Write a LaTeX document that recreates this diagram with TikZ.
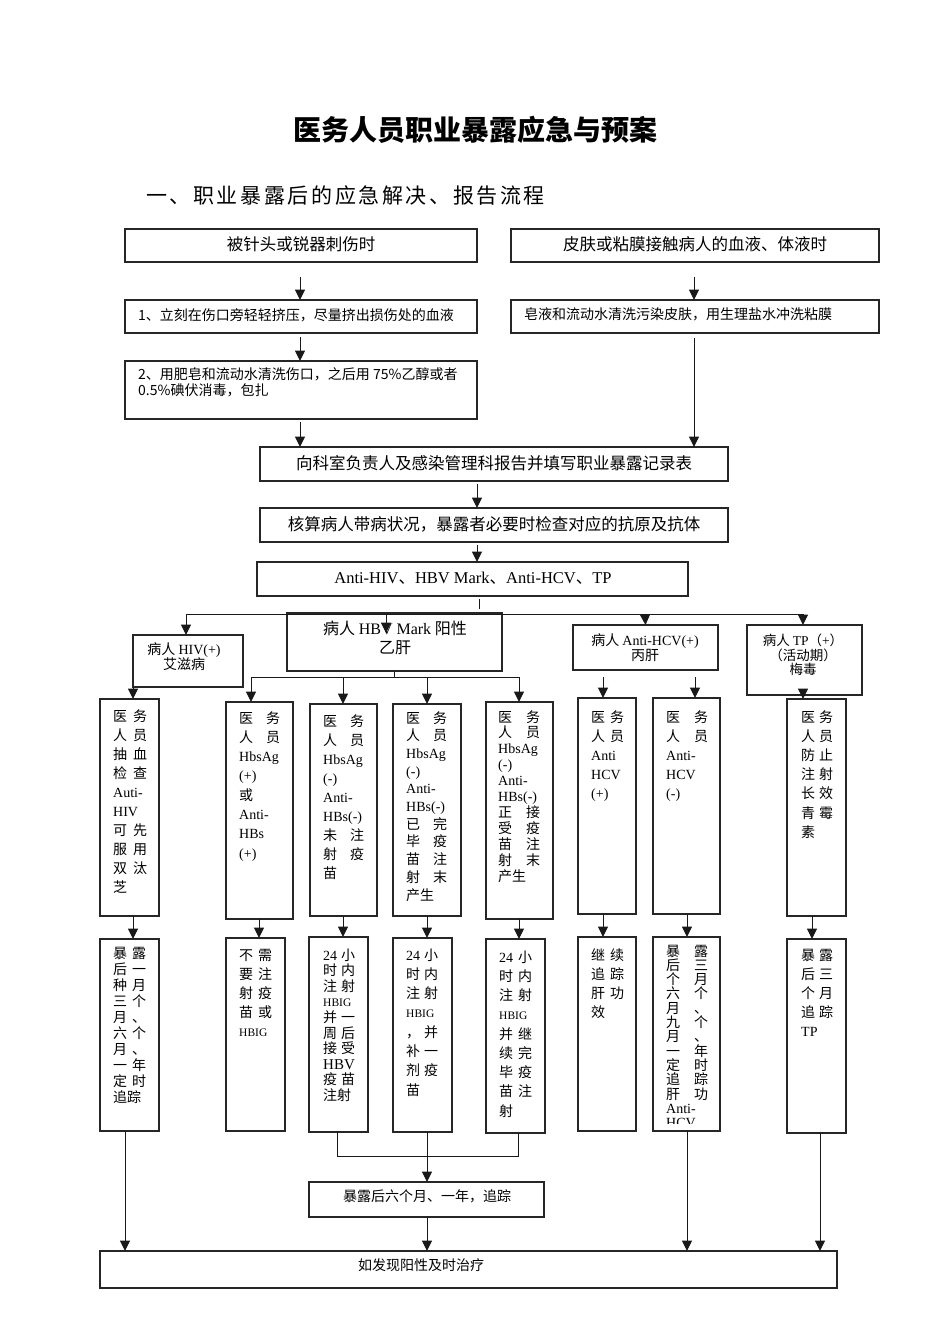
\documentclass[tikz,border=0pt]{standalone}
\usepackage{fontspec}
\setmainfont{Liberation Serif}
\newfontfamily\cjk{Noto Sans CJK SC}
\newfontfamily\cjksp[LetterSpace=12.4]{Noto Sans CJK SC}
\usetikzlibrary{arrows.meta}
\newlength\cw
\newcommand\TW[2]{\hbox to\cw{#1\hfill#2}}
\newcommand\ON[1]{\hbox to\cw{#1\hfill}}
\newcommand\lat[1]{{\rmfamily #1}}
\newcommand\sm[1]{\hbox{\rmfamily\fontsize{11.5}{11.5}\selectfont #1}}
\newcommand\colt[6]{\node[ct] (#1) at (#2,#3) {\cw=#4pt\vtop{\baselineskip=#5pt\lineskiplimit=-\maxdimen #6}};}
\tikzset{
 box/.style={draw=black!85, line width=1.3pt, anchor=north west, inner sep=0pt, outer sep=0pt},
 arr/.style={draw=black!90, line width=1pt, -{Triangle[length=10.5pt,width=10pt]}},
 ln/.style={draw=black!90, line width=1pt},
 t14/.style={font=\cjk\fontsize{14}{15}\selectfont, inner sep=0pt, align=center},
 t16/.style={font=\cjk\fontsize{16.5}{18}\selectfont, inner sep=0pt, align=center},
 ct/.style={font=\cjk\fontsize{14}{14}\selectfont, inner sep=0pt, anchor=base west},
}
\begin{document}
\begin{tikzpicture}[x=1pt,y=-1pt]
\useasboundingbox (0,0) rectangle (950,1344);
\fill[white] (0,0) rectangle (950,1344);

% guides
\foreach \n/\v in {300/300,694/694,477/477,479/479,133/133,603/603,695/695,259/259,343/343,427/427,519/519,687/687,812/812,125/125,820/820,803/803,386/386}{\coordinate (g\n) at (\v,0);}

% title
\node[font=\cjk\bfseries\fontsize{28}{30}\selectfont, inner sep=0pt] (title) at (475,130) {医务人员职业暴露应急与预案};
\node[font=\cjksp\fontsize{21}{24}\selectfont, anchor=west, inner sep=0pt] (sub) at (146,196) {一、职业暴露后的应急解决、报告流程};

% top boxes
\node[box, minimum width=352pt, minimum height=33pt] (b1) at (125,229) {};
\node[box, minimum width=368pt, minimum height=33pt] (b2) at (511,229) {};
\node[box, minimum width=352pt, minimum height=33pt] (b3) at (125,300) {};
\node[box, minimum width=368pt, minimum height=33pt] (b4) at (511,300) {};
\node[box, minimum width=352pt, minimum height=58pt] (b5) at (125,361) {};
\node[box, minimum width=468pt, minimum height=34pt] (b6) at (260,447) {};
\node[box, minimum width=468pt, minimum height=34pt] (b7) at (260,508) {};
\node[box, minimum width=431pt, minimum height=34pt] (b8) at (257,562) {};

\node[t16] (b1t) at (301,244) {被针头或锐器刺伤时};
\node[t16] (b2t) at (695,244) {皮肤或粘膜接触病人的血液、体液时};
\node[t14, anchor=west] (b3t) at (138,315) {1、立刻在伤口旁轻轻挤压，尽量挤出损伤处的血液};
\node[t14, anchor=west] (b4t) at (524,314) {皂液和流动水清洗污染皮肤，用生理盐水冲洗粘膜};
\node[t14, anchor=north west, align=left, font=\cjk\fontsize{14}{16}\selectfont] (b5t) at (138,367) {2、用肥皂和流动水清洗伤口，之后用 75\%乙醇或者\\0.5\%碘伏消毒，包扎};
\node[t16] (b6t) at (494,463) {向科室负责人及感染管理科报告并填写职业暴露记录表};
\node[t16] (b7t) at (494,524) {核算病人带病状况，暴露者必要时检查对应的抗原及抗体};
\node[t16] (b8t) at (473,578) {\lat{Anti-HIV}、\lat{HBV Mark}、\lat{Anti-HCV}、\lat{TP}};

% top connectors
\draw[arr] ([yshift=-15pt]b1.south -| g300) -- (b3.north -| g300);
\draw[arr] ([yshift=-15pt]b2.south -| g694) -- (b4.north -| g694);
\draw[arr] ([yshift=-4pt]b3.south -| g300) -- (b5.north -| g300);
\draw[arr] ([yshift=-3pt]b5.south -| g300) -- (b6.north -| g300);
\draw[arr] ([yshift=-5pt]b4.south -| g694) -- (b6.north -| g694);
\draw[arr] ([yshift=-3pt]b6.south -| g477) -- (b7.north -| g477);
\draw[arr] ([yshift=-3pt]b7.south -| g477) -- (b8.north -| g477);
\draw[ln] ([yshift=-3pt]b8.south -| g479) -- ++(0,10);

% disease boxes
\node[box, minimum width=110pt, minimum height=52pt] (hiv) at (133,635) {};
\node[box, minimum width=215pt, minimum height=58pt] (hbv) at (287,613) {};
\node[box, minimum width=145pt, minimum height=45pt] (hcv) at (573,625) {};
\node[box, minimum width=115pt, minimum height=70pt] (tp) at (747,625) {};

\node[t14] (hivt) at (184,657) {病人 \lat{HIV(+)}\\艾滋病};
\node[t16, font=\cjk\fontsize{16}{19}\selectfont] (hbvt) at (395,638) {病人 \lat{HBV Mark} 阳性\\乙肝};
\node[t14] (hcvt) at (645,648) {病人 \lat{Anti-HCV(+)}\\丙肝};
\node[t14, font=\cjk\fontsize{13.5}{14.5}\selectfont] (tpt) at (803,655) {病人 \lat{TP}（\lat{+}）\\（活动期）\\梅毒};

% bus
\coordinate (busL) at (186,614);
\coordinate (busR) at (803,614);
\draw[ln] (busL) -- (busR);
\draw[arr] (busL) -- (busL |- hiv.north);
\draw[arr] (busL -| g386) -- ++(0,19);
\draw[arr] (busL -| hcvt) -- (hcv.north);
\draw[arr] (busR) -- (busR |- tp.north);

% column boxes row 1
\node[box, minimum width=59pt, minimum height=217pt] (c1) at (100,699) {};
\node[box, minimum width=67pt, minimum height=217pt] (c2) at (226,702) {};
\node[box, minimum width=67pt, minimum height=212pt] (c3) at (310,704) {};
\node[box, minimum width=68pt, minimum height=212pt] (c4) at (393,704) {};
\node[box, minimum width=67pt, minimum height=217pt] (c5) at (486,702) {};
\node[box, minimum width=58pt, minimum height=216pt] (c6) at (578,698) {};
\node[box, minimum width=67pt, minimum height=216pt] (c7) at (653,698) {};
\node[box, minimum width=59pt, minimum height=217pt] (c8) at (787,699) {};

% HBV sub bus
\coordinate (hbL) at (251,677);
\coordinate (hbR) at (519,677);
\draw[ln] (hbL) -- (hbR);
\draw[ln] (hbv.south) -- (hbv.south |- hbL);
\draw[arr] (hbL) -- (hbL |- c2.north);
\draw[arr] (hbL -| g343) -- (c3.north -| g343);
\draw[arr] (hbL -| g427) -- (c4.north -| g427);
\draw[arr] (hbR) -- (hbR |- c5.north);
\draw[arr] (hiv.south west) -- (hiv.south west |- c1.north);
\draw[arr] (hbL -| g603) -- (c6.north -| g603);
\draw[arr] (hbL -| g695) -- (c7.north -| g695);
\draw[arr] ([yshift=5pt]tp.south -| g803) -- (c8.north -| g803);

\colt{c1t}{113}{721}{34}{19.1}{\TW{医}{务}\TW{人}{员}\TW{抽}{血}\TW{检}{查}\ON{\lat{Auti-}}\ON{\lat{HIV}}\TW{可}{先}\TW{服}{用}\TW{双}{汰}\ON{芝}}
\colt{c2t}{239}{723}{41}{19.3}{\TW{医}{务}\TW{人}{员}\ON{\lat{HbsAg}}\ON{\lat{(+)}}\ON{或}\ON{\lat{Anti-}}\ON{\lat{HBs}}\ON{\lat{(+)}}}
\colt{c3t}{323}{726}{41}{19.1}{\TW{医}{务}\TW{人}{员}\ON{\lat{HbsAg}}\ON{\lat{(-)}}\ON{\lat{Anti-}}\ON{\lat{HBs(-)}}\TW{未}{注}\TW{射}{疫}\ON{苗}}
\colt{c4t}{406}{723}{41}{17.7}{\TW{医}{务}\TW{人}{员}\ON{\lat{HbsAg}}\ON{\lat{(-)}}\ON{\lat{Anti-}}\ON{\lat{HBs(-)}}\TW{已}{完}\TW{毕}{疫}\TW{苗}{注}\TW{射}{末}\ON{产生}}
\colt{c5t}{498}{722}{42}{15.9}{\TW{医}{务}\TW{人}{员}\ON{\lat{HbsAg}}\ON{\lat{(-)}}\ON{\lat{Anti-}}\ON{\lat{HBs(-)}}\TW{正}{接}\TW{受}{疫}\TW{苗}{注}\TW{射}{末}\ON{产生}}
\colt{c6t}{591}{722}{33}{19}{\TW{医}{务}\TW{人}{员}\ON{\lat{Anti}}\ON{\lat{HCV}}\ON{\lat{(+)}}}
\colt{c7t}{666}{722}{42}{19}{\TW{医}{务}\TW{人}{员}\ON{\lat{Anti-}}\ON{\lat{HCV}}\ON{\lat{(-)}}}
\colt{c8t}{801}{722}{32}{19.2}{\TW{医}{务}\TW{人}{员}\TW{防}{止}\TW{注}{射}\TW{长}{效}\TW{青}{霉}\ON{素}}

% column boxes row 2
\node[box, minimum width=59pt, minimum height=192pt] (d1) at (100,939) {};
\node[box, minimum width=59pt, minimum height=193pt] (d2) at (226,938) {};
\node[box, minimum width=59pt, minimum height=195pt] (d3) at (309,937) {};
\node[box, minimum width=59pt, minimum height=194pt] (d4) at (393,938) {};
\node[box, minimum width=59pt, minimum height=194pt] (d5) at (486,939) {};
\node[box, minimum width=58pt, minimum height=194pt] (d6) at (578,937) {};
\node[box, minimum width=67pt, minimum height=194pt] (d7) at (653,937) {};
\node[box, minimum width=59pt, minimum height=194pt] (d8) at (787,939) {};

\draw[arr] (c1.south -| g133) -- (d1.north -| g133);
\draw[arr] (c2.south -| g259) -- (d2.north -| g259);
\draw[arr] (c3.south -| g343) -- (d3.north -| g343);
\draw[arr] (c4.south -| g427) -- (d4.north -| g427);
\draw[arr] (c5.south -| g519) -- (d5.north -| g519);
\draw[arr] (c6.south -| g603) -- (d6.north -| g603);
\draw[arr] (c7.south -| g687) -- (d7.north -| g687);
\draw[arr] (c8.south -| g812) -- (d8.north -| g812);

\colt{d1t}{113}{958}{33}{16.1}{\TW{暴}{露}\TW{后}{一}\TW{种}{月}\TW{三}{个}\TW{月}{、}\TW{六}{个}\TW{月}{、}\TW{一}{年}\TW{定}{时}\ON{追踪}}
\colt{d2t}{239}{960}{33}{19.2}{\TW{不}{需}\TW{要}{注}\TW{射}{疫}\TW{苗}{或}\sm{HBIG}}
\colt{d3t}{323}{960}{32}{15.6}{\TW{\lat{24}}{小}\TW{时}{内}\TW{注}{射}\sm{HBIG}\TW{并}{一}\TW{周}{后}\TW{接}{受}\hbox{\rmfamily\fontsize{15}{15}\selectfont HBV}\TW{疫}{苗}\ON{注射}}
\colt{d4t}{406}{960}{32}{19.3}{\TW{\lat{24}}{小}\TW{时}{内}\TW{注}{射}\sm{HBIG}\TW{，}{并}\TW{补}{一}\TW{剂}{疫}\ON{苗}}
\colt{d5t}{499}{962}{33}{19.25}{\TW{\lat{24}}{小}\TW{时}{内}\TW{注}{射}\sm{HBIG}\TW{并}{继}\TW{续}{完}\TW{毕}{疫}\TW{苗}{注}\ON{射}}
\colt{d6t}{591}{960}{33}{19}{\TW{继}{续}\TW{追}{踪}\TW{肝}{功}\ON{效}}
\begin{scope}
\clip (654,938) rectangle (719,1123);
\colt{d7t}{666}{956}{42}{14.3}{\TW{暴}{露}\TW{后}{三}\TW{个}{月}\TW{六}{个}\TW{月}{、}\TW{九}{个}\TW{月}{、}\TW{一}{年}\TW{定}{时}\TW{追}{踪}\TW{肝}{功}\ON{\lat{Anti-}}\ON{\lat{HCV}}}
\end{scope}
\colt{d8t}{801}{960}{32}{19.2}{\TW{暴}{露}\TW{后}{三}\TW{个}{月}\TW{追}{踪}\ON{\lat{TP}}}

% bottom boxes
\node[box, minimum width=235pt, minimum height=35pt] (fu) at (309,1182) {};
\node[box, minimum width=737pt, minimum height=37pt] (fin) at (100,1251) {};
\node[t14] (fut) at (427,1196) {暴露后六个月、一年，追踪};
\node[t14] (fint) at (421,1265) {如发现阳性及时治疗};

\coordinate (brL) at (337,1156);
\coordinate (brR) at (518,1156);
\draw[ln] (d3.south -| brL) -- (brL) -- (brR) -- (d5.south -| brR);
\draw[arr] (d4.south -| g427) -- (fu.north -| g427);
\draw[arr] (fu.south -| g427) -- (fin.north -| g427);
\draw[arr] (d1.south -| g125) -- (fin.north -| g125);
\draw[arr] (d7.south -| g687) -- (fin.north -| g687);
\draw[arr] (d8.south -| g820) -- (fin.north -| g820);
\end{tikzpicture}
\end{document}
